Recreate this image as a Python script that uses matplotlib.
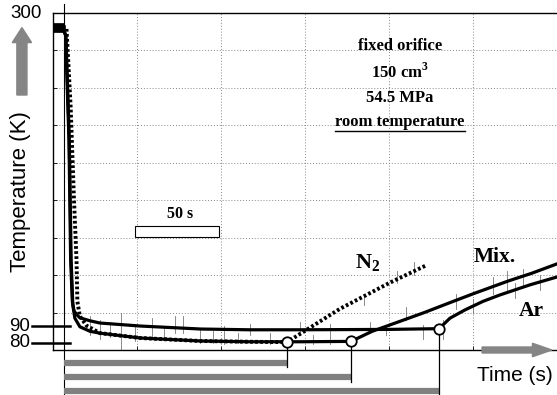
import matplotlib.pyplot as plt
import matplotlib.patches as mpatches

plt.rcParams['mathtext.fontset'] = 'custom'
plt.rcParams['mathtext.rm'] = 'Liberation Serif'
plt.rcParams['mathtext.bf'] = 'Liberation Serif:bold'

# time in s (left frame = 0), y in grid divisions (bottom frame = 0)
t0 = 6.5

# Ar : upper level, leaves at the third circle
ar_t = [0, 6.0, 7.5, 9.5, 10.5, 11.5, 12.5, 14, 16, 22, 28, 52, 88, 117, 147, 200, 229.8,
        236.3, 245.2, 256, 266, 283.9, 300]
ar_y = [8.58, 8.58, 8.4, 5.6, 2.4, 1.3, 1.05, 0.95, 0.86, 0.78, 0.72, 0.64, 0.56, 0.54, 0.54, 0.55, 0.57,
        0.85, 1.07, 1.30, 1.47, 1.74, 1.95]

# Mix. : lower level, leaves at the second circle
mix_t = [0, 6.0, 7.7, 9.7, 10.8, 11.8, 13, 16, 22, 28, 52, 88, 117, 147, 177.4,
         190, 200.6, 221, 236, 250, 270.8, 285, 300]
mix_y = [8.58, 8.58, 8.4, 5.6, 2.4, 1.2, 0.85, 0.62, 0.5, 0.45, 0.32, 0.24, 0.22, 0.22, 0.23,
         0.50, 0.67, 1.0, 1.26, 1.5, 1.84, 2.05, 2.30]

# N2 : dotted, leaves at the first circle
n2_t = [0, 8.0, 10.5, 12.5, 14.0, 14.5, 16, 20, 28, 52, 88, 117, 139.3, 170.8, 200.6, 222.6]
n2_y = [8.62, 8.62, 6.5, 4.0, 2.4, 1.3, 0.9, 0.65, 0.45, 0.32, 0.24, 0.22, 0.21, 1.1, 1.8, 2.27]

# departure points
circ_t = [139.3, 177.4, 229.8]
circ_y = [0.21, 0.23, 0.57]
drop_end = [-0.45, -0.85, -1.2]
bar_y = [-0.35, -0.72, -1.10]

# raw signal noise (t, low, high)
spikes = [(22, 0.4, 0.9), (28, 0.3, 0.8), (34, 0.35, 0.75), (40.5, 0.0, 1.0), (48.8, 0.25, 0.7),
          (59, 0.3, 0.85), (66, 0.28, 0.6), (72.6, 0.45, 0.9), (77.4, 0.45, 0.9), (87.5, 0.2, 0.6),
          (95, 0.18, 0.5), (102, 0.15, 0.65), (110, 0.2, 0.45), (117, 0.4, 0.7), (129, 0.15, 0.45),
          (147, 0.4, 0.75), (155, 0.15, 0.4), (165, 0.15, 0.7), (188.7, 0.45, 0.75), (198, 0.4, 0.62),
          (210, 0.8, 1.15), (220, 0.3, 0.68), (240, 1.1, 1.5), (262, 1.5, 1.95), (270, 1.6, 2.1),
          (280, 1.7, 2.15), (232, 0.3, 0.8), (250, 1.0, 1.35), (275, 1.4, 1.8), (290, 1.6, 2.0),
          (185, 1.2, 1.5), (205, 1.8, 2.1), (215, 2.0, 2.35)]

fig = plt.figure(figsize=(5.57, 3.95), dpi=100)
ax = fig.add_axes([53 / 557, 45 / 395, 504 / 557, 337 / 395])
ax.set_xlim(0, 300)
ax.set_ylim(0, 9)

ax.set_xticks(range(50, 300, 50))
ax.set_yticks(range(1, 9))
ax.set_xticklabels([])
ax.set_yticklabels([])
ax.tick_params(direction='in', length=3, width=0.6)
ax.grid(True, linestyle=(0, (1, 2)), color='#888888', linewidth=0.7)
ax.spines['right'].set_visible(False)
for s in ['left', 'top', 'bottom']:
    ax.spines[s].set_linewidth(1.0)

for st, lo, hi in spikes:
    ax.plot([st, st], [lo, hi], color='#777777', lw=0.6)

ax.plot([0, 6.8], [8.6, 8.6], color='black', lw=7, solid_capstyle='butt')
ax.plot(ar_t, ar_y, color='black', lw=2.3)
ax.plot(mix_t, mix_y, color='black', lw=2.3)
ax.plot(n2_t, n2_y, color='black', lw=2.8, linestyle=(0, (0.7, 0.6)))

# t = 0 line
ax.plot([t0, t0], [-1.2, 9.25], color='black', lw=0.8, clip_on=False)

for ct, cy, yb, by in zip(circ_t, circ_y, drop_end, bar_y):
    ax.plot([t0, ct], [by, by], color='#808080', lw=4.5, solid_capstyle='butt', clip_on=False)
    ax.plot([ct, ct], [cy, yb], color='black', lw=0.9, clip_on=False, zorder=4)
ax.plot(circ_t, circ_y, 'o', markersize=7.5, markerfacecolor='white', markeredgecolor='black',
        markeredgewidth=1.3, zorder=5)

# 90 / 80 marks
for lab, ly in [('90', 0.64), ('80', 0.19)]:
    ax.plot([-12.5, 10.1], [ly, ly], color='black', lw=1.8, clip_on=False)
    ax.text(-13.5, ly, lab, ha='right', va='center', fontsize=13.5, family='Liberation Sans')
ax.text(-16, 9.0, '300', ha='center', va='center', fontsize=13.5, family='Liberation Sans')
ax.text(-19.5, 4.22, 'Temperature (K)', ha='center', va='center', rotation=90, fontsize=16,
        family='Liberation Sans')
ax.add_patch(mpatches.FancyArrow(-18.5, 6.81, 0, 1.4, width=6.0, head_width=11.5, head_length=0.4,
                                 length_includes_head=False, color='#858585', clip_on=False))

ax.text(275, -0.67, 'Time (s)', ha='center', va='center', fontsize=15, family='Liberation Sans')
ax.add_patch(mpatches.FancyArrow(255.4, 0, 30, 0, width=0.16, head_width=0.36, head_length=11.5,
                                 color='#858585', clip_on=False, zorder=6))

# info block
serif = dict(family='Liberation Serif', weight='bold')
ax.text(206.5, 8.12, 'fixed orifice', ha='center', va='center', fontsize=12, **serif)
ax.text(206.5, 7.43, r'150 cm$^{\mathbf{3}}$', ha='center', va='center', fontsize=12, **serif)
ax.text(206.5, 6.73, '54.5 MPa', ha='center', va='center', fontsize=12, **serif)
rt = ax.text(206.5, 6.09, 'room temperature', ha='center', va='center', fontsize=12, **serif)
fig.canvas.draw()
bb = rt.get_window_extent().transformed(ax.transData.inverted())
ax.plot([bb.x0, bb.x1], [bb.y0 - 0.02, bb.y0 - 0.02], color='black', lw=1.0)

# 50 s scale
ax.add_patch(mpatches.Rectangle((48.8, 3.02), 50, 0.29, facecolor='white', edgecolor='black', lw=0.8,
                                zorder=3))
ax.text(75.6, 3.63, '50 s', ha='center', va='center', fontsize=11.5, **serif)

ax.text(187, 2.35, r'$\mathbf{N_2}$', ha='center', va='center', fontsize=16)
ax.text(263, 2.48, 'Mix.', ha='center', va='center', fontsize=15.5, **serif)
ax.text(284.5, 1.04, 'Ar', ha='center', va='center', fontsize=15.5, **serif)

fig.savefig('out.png', dpi=100)
